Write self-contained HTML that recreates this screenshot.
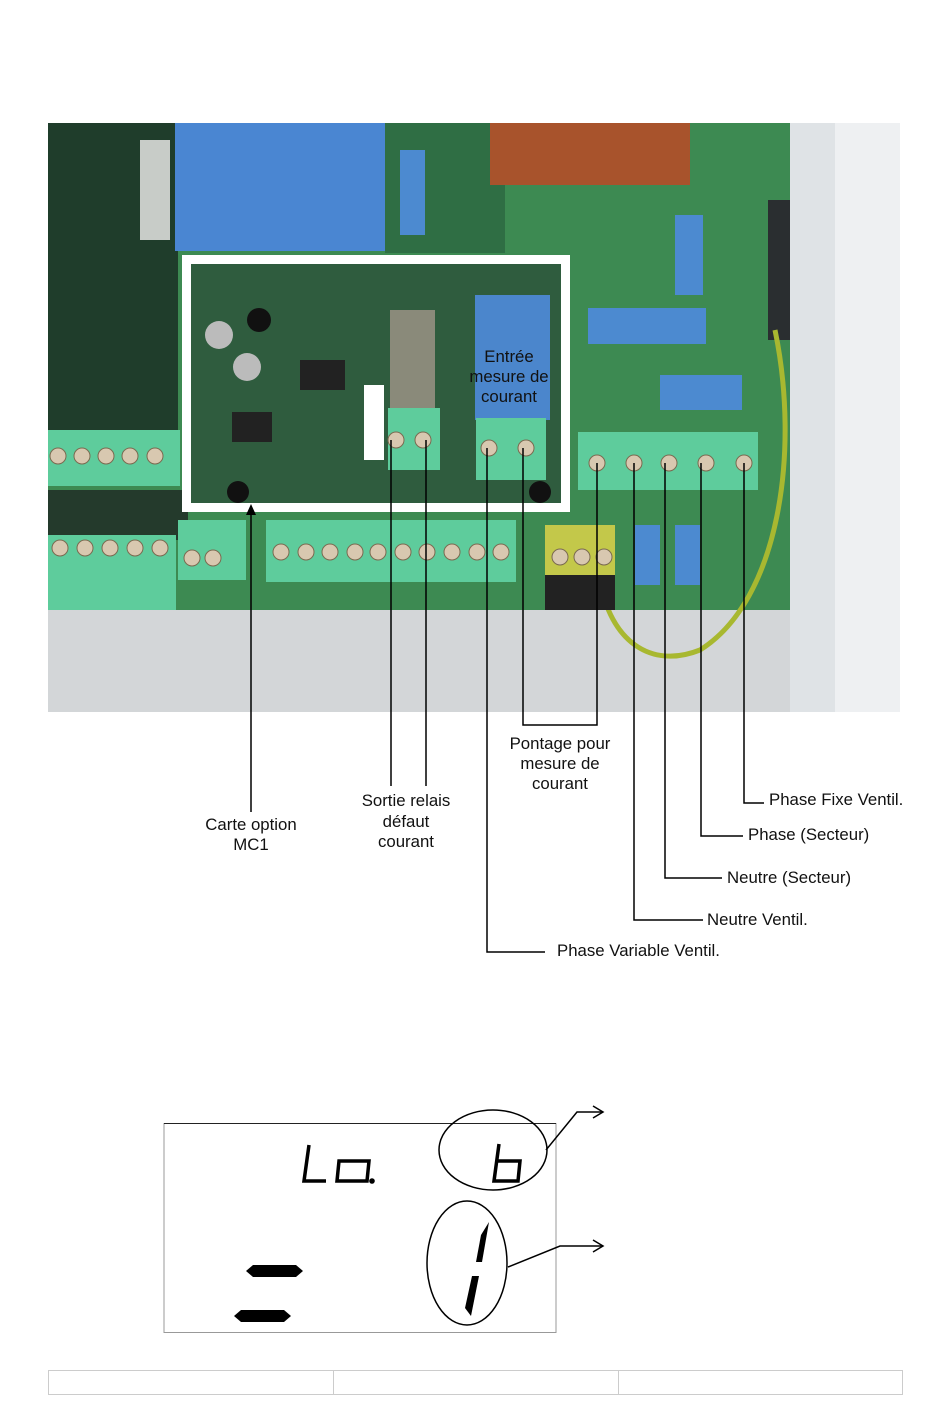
<!DOCTYPE html>
<html><head><meta charset="utf-8"><style>
html,body{margin:0;padding:0;background:#fff;}
svg{display:block}
text{font-family:"Liberation Sans",sans-serif;font-size:16.8px;fill:#111}
</style></head><body>
<svg width="950" height="1409" viewBox="0 0 950 1409" xmlns="http://www.w3.org/2000/svg">
<!-- photo -->
<rect x="48" y="123" width="852" height="589" fill="#3d8a52"/>
<rect x="48" y="123" width="130" height="320" fill="#1f3d2b"/>
<rect x="48" y="490" width="140" height="50" fill="#243a2c"/>
<rect x="385" y="123" width="120" height="130" fill="#2f6e44"/>
<rect x="48" y="610" width="790" height="102" fill="#d3d6d8"/>
<rect x="790" y="123" width="45" height="589" fill="#dfe3e6"/>
<rect x="835" y="123" width="65" height="589" fill="#eef0f2"/>
<rect x="768" y="200" width="22" height="140" fill="#2a2e30"/>
<rect x="175" y="123" width="210" height="128" fill="#4a86d2"/>
<rect x="140" y="140" width="30" height="100" fill="#c8ccc8"/>
<rect x="490" y="123" width="200" height="62" fill="#a8532c"/>
<rect x="400" y="150" width="25" height="85" fill="#4c8ad0"/>
<rect x="675" y="215" width="28" height="80" fill="#4c8ad0"/>
<rect x="588" y="308" width="118" height="36" fill="#4c8ad0"/>
<rect x="660" y="375" width="82" height="35" fill="#4c8ad0"/>
<path d="M775 330 C 800 450 780 600 700 650 C 650 670 610 640 600 580" fill="none" stroke="#a8b830" stroke-width="5"/>
<!-- terminal blocks -->
<rect x="48" y="430" width="132" height="56" fill="#5ecc9c"/>
<rect x="48" y="535" width="128" height="75" fill="#5ecc9c"/>
<rect x="178" y="520" width="68" height="60" fill="#5ecc9c"/>
<rect x="266" y="520" width="250" height="62" fill="#5ecc9c"/>
<rect x="578" y="432" width="180" height="58" fill="#5ecc9c"/>
<rect x="545" y="525" width="70" height="50" fill="#c3c84a"/>
<rect x="545" y="575" width="70" height="35" fill="#222"/>
<rect x="635" y="525" width="25" height="60" fill="#4c8ad0"/>
<rect x="675" y="525" width="25" height="60" fill="#4c8ad0"/>
<g fill="#d8c8b0" stroke="#7a6a50" stroke-width="1">
<circle cx="58" cy="456" r="8"/><circle cx="82" cy="456" r="8"/><circle cx="106" cy="456" r="8"/><circle cx="130" cy="456" r="8"/><circle cx="155" cy="456" r="8"/>
<circle cx="60" cy="548" r="8"/><circle cx="85" cy="548" r="8"/><circle cx="110" cy="548" r="8"/><circle cx="135" cy="548" r="8"/><circle cx="160" cy="548" r="8"/>
<circle cx="192" cy="558" r="8"/><circle cx="213" cy="558" r="8"/>
<circle cx="281" cy="552" r="8"/><circle cx="306" cy="552" r="8"/><circle cx="330" cy="552" r="8"/><circle cx="355" cy="552" r="8"/><circle cx="378" cy="552" r="8"/><circle cx="403" cy="552" r="8"/><circle cx="427" cy="552" r="8"/><circle cx="452" cy="552" r="8"/><circle cx="477" cy="552" r="8"/><circle cx="501" cy="552" r="8"/>
<circle cx="597" cy="463" r="8"/><circle cx="634" cy="463" r="8"/><circle cx="669" cy="463" r="8"/><circle cx="706" cy="463" r="8"/><circle cx="744" cy="463" r="8"/>
<circle cx="560" cy="557" r="8"/><circle cx="582" cy="557" r="8"/><circle cx="604" cy="557" r="8"/>
</g>
<!-- inset -->
<rect x="182" y="255" width="388" height="257" fill="#fff"/>
<rect x="191" y="264" width="370" height="239" fill="#2f5c3e"/>
<rect x="390" y="310" width="45" height="100" fill="#8a8a7a"/>
<rect x="475" y="295" width="75" height="125" fill="#4b86cc"/>
<rect x="388" y="408" width="52" height="62" fill="#5ecc9c"/>
<rect x="476" y="418" width="70" height="62" fill="#5ecc9c"/>
<rect x="300" y="360" width="45" height="30" fill="#222"/>
<rect x="232" y="412" width="40" height="30" fill="#222"/>
<rect x="364" y="385" width="20" height="75" fill="#fff"/>
<circle cx="219" cy="335" r="14" fill="#bbb"/><circle cx="247" cy="367" r="14" fill="#bbb"/>
<circle cx="259" cy="320" r="12" fill="#111"/><circle cx="238" cy="492" r="11" fill="#111"/><circle cx="540" cy="492" r="11" fill="#111"/>
<g fill="#d8c8b0" stroke="#7a6a50"><circle cx="396" cy="440" r="8"/><circle cx="423" cy="440" r="8"/><circle cx="489" cy="448" r="8"/><circle cx="526" cy="448" r="8"/></g>
<text x="509" y="362" text-anchor="middle">Entrée</text>
<text x="509" y="382" text-anchor="middle">mesure de</text>
<text x="509" y="402" text-anchor="middle">courant</text>
<!-- leader lines -->
<g stroke="#000" stroke-width="1.5" fill="none">
<line x1="251" y1="512" x2="251" y2="812"/>
<line x1="391" y1="440" x2="391" y2="786"/>
<line x1="426" y1="440" x2="426" y2="786"/>
<polyline points="487,448 487,952 545,952"/>
<polyline points="523,448 523,725 597,725 597,463"/>
<polyline points="634,463 634,920 703,920"/>
<polyline points="665,463 665,878 722,878"/>
<polyline points="701,463 701,836 743,836"/>
<polyline points="744,463 744,803 764,803"/>
</g>
<polygon points="251,504 246,515 256,515" fill="#000"/>
<text x="251" y="830" text-anchor="middle">Carte option</text>
<text x="251" y="850" text-anchor="middle">MC1</text>
<text x="406" y="806" text-anchor="middle">Sortie relais</text>
<text x="406" y="827" text-anchor="middle">défaut</text>
<text x="406" y="847" text-anchor="middle">courant</text>
<text x="560" y="749" text-anchor="middle">Pontage pour</text>
<text x="560" y="769" text-anchor="middle">mesure de</text>
<text x="560" y="789" text-anchor="middle">courant</text>
<text x="769" y="805">Phase Fixe Ventil.</text>
<text x="748" y="840">Phase (Secteur)</text>
<text x="727" y="883">Neutre (Secteur)</text>
<text x="707" y="925">Neutre Ventil.</text>
<text x="557" y="956">Phase Variable Ventil.</text>
<!-- LCD -->
<rect x="164" y="1123.5" width="392" height="209" fill="none" stroke="#999" stroke-width="1"/>
<line x1="164" y1="1123.5" x2="556" y2="1123.5" stroke="#222" stroke-width="1"/>
<g fill="none" stroke="#000" stroke-width="3.5" stroke-linejoin="miter">
<polyline points="309,1145 304,1181 326,1181"/>
<polygon points="339,1161 369,1161 367,1181 337,1181"/>
<polyline points="499,1144 494,1181 518,1181 520,1161 496,1161"/>
</g>
<circle cx="372" cy="1181" r="2.8" fill="#000"/>
<polygon points="246,1271 253,1265 296,1265 303,1271 296,1277 253,1277" fill="#000"/>
<polygon points="234,1316 241,1310 284,1310 291,1316 284,1322 241,1322" fill="#000"/>
<polygon points="489,1222 482,1262 476,1262 481,1235" fill="#000"/>
<polygon points="479,1276 471,1316 465,1308 472,1276" fill="#000"/>
<g fill="none" stroke="#000" stroke-width="1.5">
<ellipse cx="493" cy="1150" rx="54" ry="40"/>
<ellipse cx="467" cy="1263" rx="40" ry="62"/>
<polyline points="546,1150 577,1112 603,1112"/>
<polyline points="593,1106 603,1112 593,1118"/>
<polyline points="508,1267 560,1246 603,1246"/>
<polyline points="593,1240 603,1246 593,1252"/>
</g>
<!-- bottom table -->
<g fill="none" stroke="#ccc" stroke-width="1">
<rect x="48.5" y="1370.5" width="854" height="24"/>
<line x1="333.5" y1="1370" x2="333.5" y2="1395"/>
<line x1="618.5" y1="1370" x2="618.5" y2="1395"/>
</g>
</svg>
</body></html>
